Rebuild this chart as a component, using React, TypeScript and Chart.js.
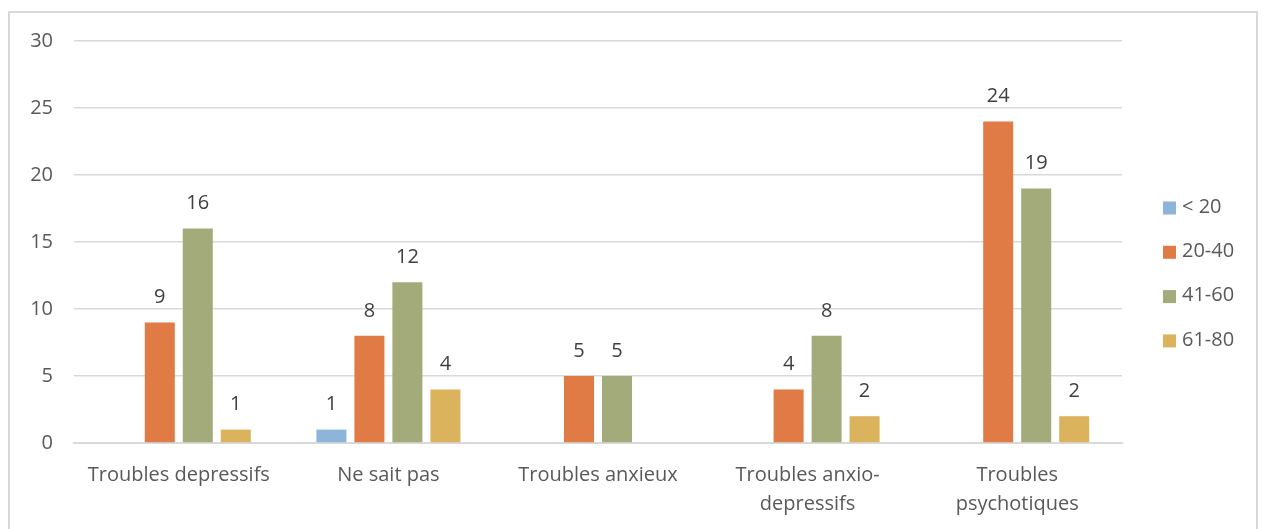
import React, { useEffect, useRef } from "react";
import { Chart, registerables } from "chart.js";

Chart.register(...registerables);

const categories: (string | string[])[] = [
  "Troubles depressifs",
  "Ne sait pas",
  "Troubles anxieux",
  ["Troubles anxio-", "depressifs"],
  ["Troubles", "psychotiques"],
];

const seriesLabels = ["< 20", "20-40", "41-60", "61-80"];
const under20 = [0, 1, 0, 0, 0];
const from20to40 = [9, 8, 5, 4, 24];
const from41to60 = [16, 12, 5, 8, 19];
const from61to80 = [1, 4, 0, 2, 2];
const seriesColors = ["#8db4d9", "#e07b45", "#a3ab7a", "#dbb35c"];

const yTicks = [0, 5, 10, 15, 20, 25, 30];

const FONT = "'Open Sans', sans-serif";
const TEXT = "#595959";

// Value labels above each non-zero bar
const valueLabels = {
  id: "valueLabels",
  afterDatasetsDraw(chart: any) {
    const ctx = chart.ctx;
    ctx.save();
    ctx.font = `20px ${FONT}`;
    ctx.fillStyle = "#404040";
    ctx.textAlign = "center";
    ctx.textBaseline = "middle";
    chart.data.datasets.forEach((ds: any, i: number) => {
      const meta = chart.getDatasetMeta(i);
      meta.data.forEach((bar: any, j: number) => {
        const v = ds.data[j];
        if (!v) return;
        ctx.fillText(String(v), bar.x, bar.y - 25);
      });
    });
    ctx.restore();
  },
};

// Vertical legend on the right of the plot
const sideLegend = {
  id: "sideLegend",
  afterDraw(chart: any) {
    const ctx = chart.ctx;
    const area = chart.chartArea;
    const x = area.right + 41;
    const startY = area.top + 167;
    const step = 44.3;
    ctx.save();
    ctx.font = `20px ${FONT}`;
    ctx.textBaseline = "middle";
    ctx.textAlign = "left";
    chart.data.datasets.forEach((ds: any, i: number) => {
      const cy = startY + i * step;
      ctx.fillStyle = ds.backgroundColor;
      ctx.fillRect(x, cy - 6.5, 13, 13);
      ctx.fillStyle = TEXT;
      ctx.fillText(ds.label, x + 19, cy - 1);
    });
    ctx.restore();
  },
};

export default function App() {
  const canvasRef = useRef<HTMLCanvasElement | null>(null);

  useEffect(() => {
    if (!canvasRef.current) return;
    const values = [under20, from20to40, from41to60, from61to80];
    const chart = new Chart(canvasRef.current, {
      type: "bar",
      data: {
        labels: categories,
        datasets: seriesLabels.map((label, i) => ({
          label,
          data: values[i],
          backgroundColor: seriesColors[i],
          categoryPercentage: 0.725,
          barPercentage: 0.79,
        })),
      },
      options: {
        animation: false,
        responsive: false,
        maintainAspectRatio: false,
        layout: { padding: { top: 0, right: 134, left: 0, bottom: 0 } },
        plugins: {
          legend: { display: false },
          tooltip: { enabled: false },
        },
        scales: {
          x: {
            grid: { display: false },
            border: { display: true, color: "#d9d9d9", width: 2 },
            ticks: {
              color: TEXT,
              font: { family: FONT, size: 20, lineHeight: 1.45 },
              padding: 10,
              maxRotation: 0,
              autoSkip: false,
            },
            afterFit(scale: any) {
              scale.height = 85;
            },
          },
          y: {
            min: 0,
            max: 30,
            afterBuildTicks(scale: any) {
              scale.ticks = yTicks.map((v) => ({ value: v }));
            },
            grid: { color: "#d9d9d9", lineWidth: 1.5, drawTicks: false },
            border: { display: false },
            ticks: {
              color: TEXT,
              font: { family: FONT, size: 20 },
              padding: 21,
            },
            afterFit(scale: any) {
              scale.width = 64;
            },
          },
        },
      },
      plugins: [valueLabels, sideLegend],
    });
    return () => chart.destroy();
  }, []);

  return (
    <div style={{ paddingTop: 3 }}>
      <div
        style={{
          border: "2px solid #d9d9d9",
          width: 1246,
          height: 540,
          background: "#fff",
          overflow: "hidden",
        }}
      >
        <canvas
          ref={canvasRef}
          width={1246}
          height={520}
          style={{ display: "block", marginTop: -5 }}
        />
      </div>
    </div>
  );
}
